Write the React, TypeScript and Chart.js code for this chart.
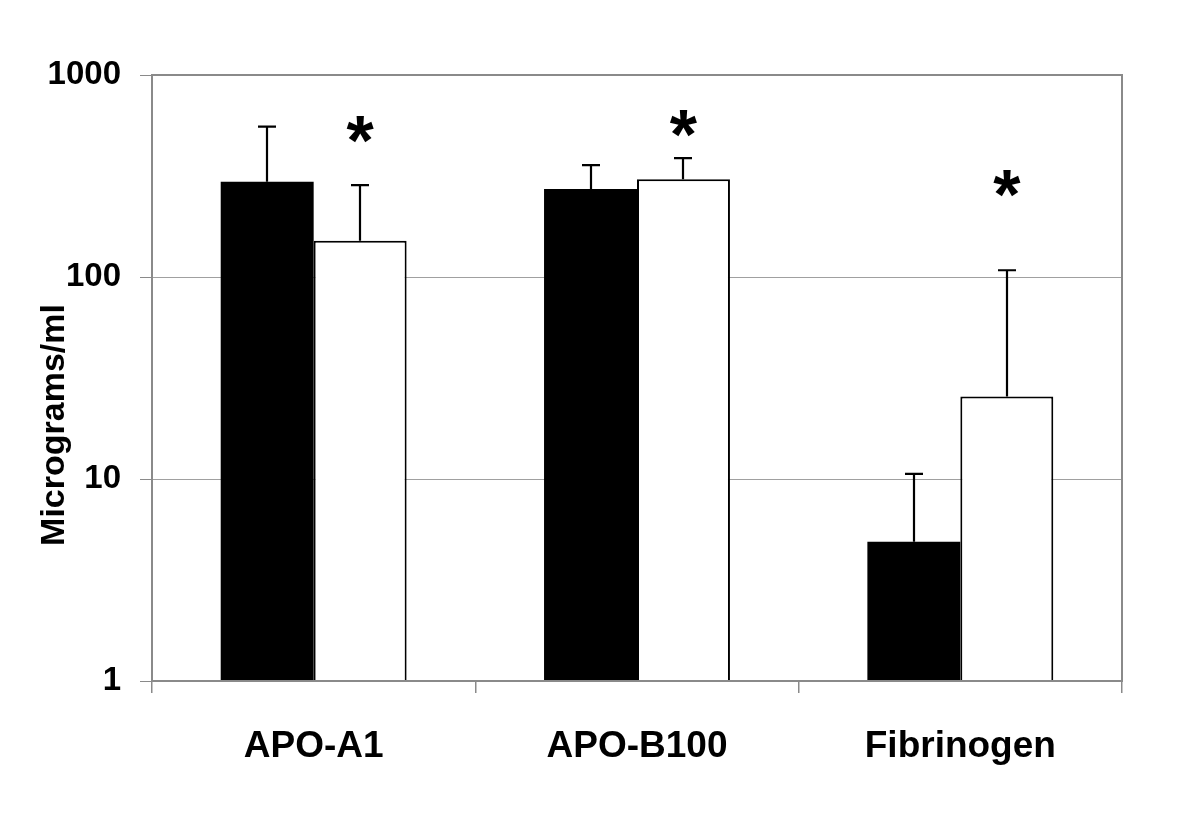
import React, { useEffect, useRef } from "react";
import { Chart, registerables } from "chart.js";

Chart.register(...registerables);

const categories = ["APO-A1", "APO-B100", "Fibrinogen"];
const blackValues = [296, 273, 4.89];
const blackUpper = [555, 358, 10.6];
const whiteValues = [151, 305, 25.6];
const whiteUpper = [285, 388, 108];
const asteriskValues = [516, 555, 279];
const yTicks = [1, 10, 100, 1000];
const yTitle = "Micrograms/ml";

const FONT = "'Liberation Sans', Arial, Helvetica, sans-serif";
const STAR_SIZE = 70;

const extrasPlugin = {
  id: "extras",
  afterDatasetsDraw(chart: any) {
    const ctx = chart.ctx;
    const yScale = chart.scales.y;
    const uppers = [blackUpper, whiteUpper];
    ctx.save();
    ctx.strokeStyle = "#000";
    ctx.lineWidth = 2.2;
    uppers.forEach((up, di) => {
      const meta = chart.getDatasetMeta(di);
      meta.data.forEach((el: any, j: number) => {
        const yTop = yScale.getPixelForValue(up[j]);
        const x = Math.round(el.x);
        ctx.beginPath();
        ctx.moveTo(x, el.y);
        ctx.lineTo(x, yTop);
        ctx.moveTo(x - 9, yTop);
        ctx.lineTo(x + 9, yTop);
        ctx.stroke();
      });
    });
    const wmeta = chart.getDatasetMeta(1);
    ctx.fillStyle = "#000";
    ctx.font = `bold ${STAR_SIZE}px ${FONT}`;
    ctx.textAlign = "center";
    ctx.textBaseline = "alphabetic";
    wmeta.data.forEach((el: any, j: number) => {
      const cy = yScale.getPixelForValue(asteriskValues[j]);
      ctx.fillText("*", el.x, cy + 0.46 * STAR_SIZE);
    });
    ctx.restore();
  },
  afterDraw(chart: any) {
    const ctx = chart.ctx;
    const a = chart.chartArea;
    ctx.save();
    ctx.strokeStyle = "#8a8a8a";
    ctx.lineWidth = 2;
    ctx.strokeRect(a.left, a.top, a.right - a.left, a.bottom - a.top);
    ctx.translate(a.left - 97, (a.top + a.bottom) / 2 + 47);
    ctx.rotate(-Math.PI / 2);
    ctx.fillStyle = "#000";
    ctx.font = `bold 34px ${FONT}`;
    ctx.textAlign = "center";
    ctx.textBaseline = "middle";
    ctx.fillText(yTitle, 0, 0);
    ctx.restore();
  },
};

export default function App() {
  const ref = useRef<HTMLCanvasElement>(null);
  useEffect(() => {
    if (!ref.current) return;
    const chart = new Chart(ref.current, {
      type: "bar",
      data: {
        labels: categories,
        datasets: [
          {
            label: "black",
            data: blackValues,
            backgroundColor: "#000",
            borderColor: "#000",
            borderWidth: 0,
            categoryPercentage: 0.575,
            barPercentage: 1,
          },
          {
            label: "white",
            data: whiteValues,
            backgroundColor: "#fff",
            borderColor: "#000",
            borderWidth: 2,
            categoryPercentage: 0.575,
            barPercentage: 1,
          },
        ],
      },
      options: {
        responsive: false,
        animation: false,
        events: [],
        layout: { padding: { top: 75, right: 78, left: 0, bottom: 0 } },
        plugins: {
          legend: { display: false },
          tooltip: { enabled: false },
          title: { display: false },
        },
        scales: {
          x: {
            type: "category",
            offset: true,
            grid: {
              display: true,
              offset: true,
              drawOnChartArea: false,
              tickLength: 12,
              color: "#8a8a8a",
              lineWidth: 1.5,
            },
            border: { display: true, color: "#8a8a8a", width: 2 },
            ticks: {
              color: "#000",
              font: { family: FONT, size: 37, weight: "bold" },
              padding: 32,
              maxRotation: 0,
            },
            afterFit: (s: any) => {
              s.height = 156;
            },
          },
          y: {
            type: "logarithmic",
            min: 1,
            max: 1000,
            afterBuildTicks: (s: any) => {
              s.ticks = yTicks.map((v) => ({ value: v }));
            },
            grid: {
              color: "#a0a0a0",
              lineWidth: 1,
              tickLength: 12,
              tickColor: "#8a8a8a",
            },
            border: { display: true, color: "#8a8a8a", width: 2 },
            ticks: {
              color: "#000",
              font: { family: FONT, size: 33, weight: "bold" },
              padding: 19,
              callback: (v: any) => String(v),
            },
            afterFit: (s: any) => {
              s.width = 152;
            },
          },
        },
      },
      plugins: [extrasPlugin],
    });
    return () => chart.destroy();
  }, []);
  return (
    <div style={{ position: "absolute", left: 0, top: 0, width: 1200, height: 837, background: "#fff" }}>
      <canvas ref={ref} width={1200} height={837} />
    </div>
  );
}
